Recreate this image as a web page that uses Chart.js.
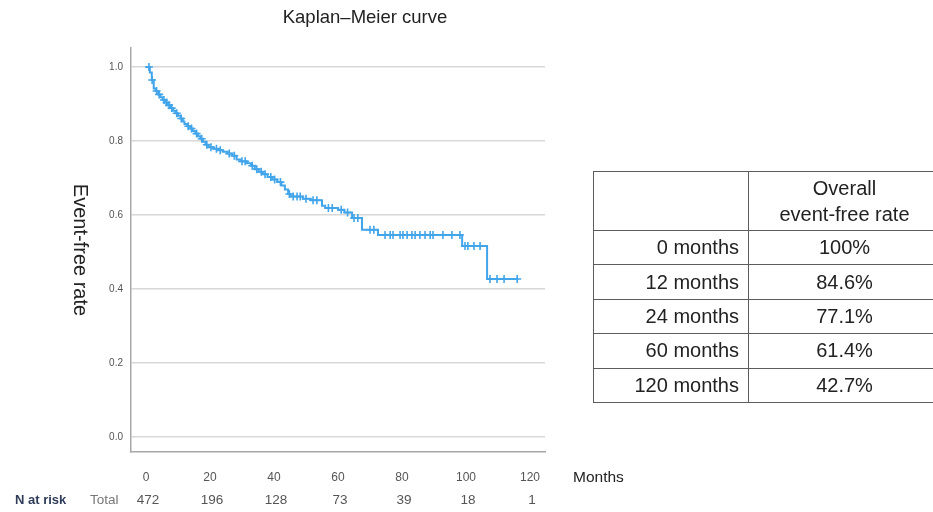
<!DOCTYPE html>
<html>
<head>
<meta charset="utf-8">
<script src="https://cdn.jsdelivr.net/npm/chart.js@4"></script>
<style>
  html, body { margin: 0; padding: 0; background: #fff; overflow: hidden; }
  #wrap { position: relative; width: 933px; height: 512px; overflow: hidden; }
  #chart { position: absolute; left: 0; top: 0; }
  table.rates {
    position: absolute; left: 593px; top: 171px;
    width: 347px; min-width: 347px;
    border-collapse: collapse; table-layout: fixed;
    font-family: "Liberation Sans", Arial, sans-serif; font-size: 20px; color: #222;
  }
  table.rates td { border: 1.5px solid #5c5c5c; padding: 0; white-space: nowrap; }
  table.rates tr.head { height: 59px; }
  table.rates tr.head td { text-align: center; line-height: 26px; }
  table.rates tr.row { height: 34.4px; }
  table.rates td.lab { text-align: right; padding-right: 9px; }
  table.rates td.val { text-align: center; }
</style>
</head>
<body>
<div id="wrap">
  <canvas id="chart" width="933" height="512"></canvas>
  <table class="rates" id="rates">
    <colgroup><col style="width:155px"><col style="width:192px"></colgroup>
  </table>
</div>
<script>
// Kaplan–Meier step curve: time (months) at which the estimate drops, and the new level
const kmTimes = [0, 1.2, 1.8, 2.4, 3.0, 3.8, 4.5, 5.2, 6.0, 6.8, 7.6, 8.4, 9.2, 10.0, 10.8, 11.5,
  12.0, 12.9, 13.8, 14.6, 15.4, 16.2, 17.0, 17.8, 18.6, 19.5, 21.0, 22.5, 24.0, 25.5, 27.0,
  28.3, 29.5, 31.5, 32.8, 34.0, 35.2, 36.5, 38.0, 39.5, 41.0, 42.3, 43.4, 44.4, 45.2, 49.0,
  51.5, 55.0, 56.0, 60.0, 62.0, 64.4, 67.5, 72.5, 98.8, 106.6, 116.3];
const kmSurvival = [1.000, 0.985, 0.965, 0.942, 0.935, 0.926, 0.918, 0.911, 0.904, 0.897, 0.889,
  0.882, 0.875, 0.868, 0.861, 0.853, 0.846, 0.840, 0.834, 0.827, 0.820, 0.813, 0.806, 0.798,
  0.790, 0.783, 0.779, 0.775, 0.771, 0.766, 0.760, 0.750, 0.745, 0.740, 0.733, 0.724, 0.717,
  0.710, 0.703, 0.696, 0.689, 0.680, 0.669, 0.657, 0.650, 0.644, 0.640, 0.625, 0.619, 0.614,
  0.607, 0.592, 0.560, 0.546, 0.516, 0.427, 0.427];

// Censored observations (months)
const censorTimes = [0.9, 1.9, 3.3, 4.1, 5.6, 6.4, 7.2, 8.0, 9.6, 11.0, 13.2, 14.2, 15.8, 17.4,
  19.0, 20.3, 22.0, 23.2, 26.0, 27.6, 30.0, 31.0, 33.2, 34.6, 36.0, 37.2, 39.0, 40.2, 42.0,
  44.8, 46.0, 47.2, 48.2, 50.0, 52.2, 53.4, 57.0, 58.2, 61.0, 63.0, 65.0, 66.2, 70.0, 71.2,
  74.7, 76.3, 77.2, 79.4, 80.3, 81.6, 83.1, 84.1, 85.6, 87.2, 88.8, 89.7, 92.8, 95.6, 98.1,
  99.7, 100.6, 102.5, 104.4, 107.5, 109.7, 111.9, 116.0];

const xTicks = [0, 20, 40, 60, 80, 100, 120];
const yTicks = [0, 0.2, 0.4, 0.6, 0.8, 1.0];

// Number at risk below the axis
const riskTimes = [0, 20, 40, 60, 80, 100, 120];
const atRisk = [472, 196, 128, 73, 39, 18, 1];

// Summary table
const tableHeader = ['', 'Overall', 'event-free rate'];
const tableTimes = ['0 months', '12 months', '24 months', '60 months', '120 months'];
const tableRates = ['100%', '84.6%', '77.1%', '61.4%', '42.7%'];

const FONT = '"Liberation Sans", Arial, sans-serif';
const BLUE = '#42a5ea';

function survivalAt(t) {
  let s = kmSurvival[0];
  for (let i = 0; i < kmTimes.length; i++) {
    if (kmTimes[i] <= t) s = kmSurvival[i];
  }
  return s;
}

// build the summary table
(function () {
  const tbl = document.getElementById('rates');
  const head = document.createElement('tr');
  head.className = 'head';
  const h0 = document.createElement('td');
  h0.textContent = tableHeader[0];
  const h1 = document.createElement('td');
  h1.innerHTML = tableHeader[1] + '<br>' + tableHeader[2];
  head.appendChild(h0); head.appendChild(h1);
  tbl.appendChild(head);
  tableTimes.forEach((lab, i) => {
    const tr = document.createElement('tr');
    tr.className = 'row';
    const a = document.createElement('td'); a.className = 'lab'; a.textContent = lab;
    const b = document.createElement('td'); b.className = 'val'; b.textContent = tableRates[i];
    tr.appendChild(a); tr.appendChild(b);
    tbl.appendChild(tr);
  });
})();

// title, axis caption, "Months" and the number-at-risk row
const extraText = {
  id: 'extraText',
  afterDraw(chart) {
    const c = chart.ctx;
    const xs = chart.scales.x;
    c.save();
    c.fillStyle = '#222';
    c.textAlign = 'center';
    c.textBaseline = 'middle';
    c.font = '18.5px ' + FONT;
    c.fillText('Kaplan\u2013Meier curve', 365, 18);

    c.save();
    c.translate(80, (chart.chartArea.top + chart.chartArea.bottom) / 2);
    c.rotate(Math.PI / 2);
    c.font = '20px ' + FONT;
    c.fillText('Event-free rate', 0, 0);
    c.restore();

    c.textAlign = 'left';
    c.font = '15.5px ' + FONT;
    c.fillText('Months', 573, 478);

    c.font = 'bold 13px ' + FONT;
    c.fillStyle = '#2f3d5a';
    c.fillText('N at risk', 15, 500);
    c.font = '13.5px ' + FONT;
    c.fillStyle = '#777';
    c.fillText('Total', 90, 500);
    c.textAlign = 'center';
    c.fillStyle = '#555';
    riskTimes.forEach((t, i) => {
      c.fillText(String(atRisk[i]), xs.getPixelForValue(t) + 2, 500);
    });
    c.restore();
  }
};

new Chart(document.getElementById('chart'), {
  type: 'line',
  data: {
    datasets: [
      {
        label: 'Event-free rate',
        data: kmTimes.map((t, i) => ({ x: t, y: kmSurvival[i] })),
        stepped: 'before',
        borderColor: BLUE,
        borderWidth: 2,
        pointRadius: 0,
        fill: false
      },
      {
        type: 'scatter',
        label: 'Censored',
        data: censorTimes.map(t => ({ x: t, y: survivalAt(t) })),
        pointStyle: 'cross',
        pointRadius: 4,
        borderColor: BLUE,
        backgroundColor: BLUE,
        borderWidth: 1.6,
        showLine: false
      }
    ]
  },
  options: {
    responsive: false,
    animation: false,
    events: [],
    layout: { padding: { left: 0, right: 388, top: 48, bottom: 0 } },
    scales: {
      x: {
        type: 'linear',
        min: -4.7,
        max: 124.7,
        afterBuildTicks: axis => { axis.ticks = xTicks.map(v => ({ value: v })); },
        afterFit: s => { s.height = 60; },
        grid: { display: false, drawTicks: false },
        border: { display: true, color: '#a8a8a8', width: 1.5 },
        ticks: { padding: 18, color: '#555', font: { family: FONT, size: 12 }, maxRotation: 0, autoSkip: false }
      },
      y: {
        type: 'linear',
        min: -0.0405,
        max: 1.0514,
        afterBuildTicks: axis => { axis.ticks = yTicks.map(v => ({ value: v })); },
        afterFit: s => { s.width = 131; },
        grid: { color: '#d8d8d8', lineWidth: 1.5, drawTicks: false },
        border: { display: true, color: '#a8a8a8', width: 1.5 },
        ticks: { padding: 8, color: '#555', font: { family: FONT, size: 10 }, callback: v => Number(v).toFixed(1) }
      }
    },
    plugins: {
      legend: { display: false },
      tooltip: { enabled: false },
      title: { display: false }
    }
  },
  plugins: [extraText]
});
</script>
</body>
</html>
